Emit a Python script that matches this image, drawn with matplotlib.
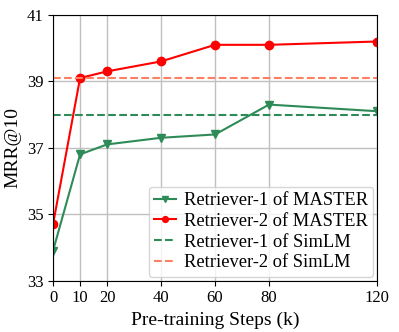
import matplotlib
matplotlib.use("Agg")
import matplotlib.pyplot as plt

plt.rcParams['font.family'] = ['Liberation Serif', 'DejaVu Serif']
plt.rcParams['mathtext.fontset'] = 'stix'

# Daten
steps = [0, 10, 20, 40, 60, 80, 120]
master_r1 = [33.9, 36.8, 37.1, 37.3, 37.4, 38.3, 38.1]
master_r2 = [34.7, 39.1, 39.3, 39.6, 40.1, 40.1, 40.2]
simlm_r1 = 38.0
simlm_r2 = 39.1
y_ticks = [33, 35, 37, 39, 41]

fig, ax = plt.subplots(figsize=(3.99, 3.32), dpi=100)
ax.plot(steps, master_r1, color='#2e8b57', marker='v', markersize=6,
        linewidth=1.5, label='Retriever-1 of MASTER')
ax.plot(steps, master_r2, color='red', marker='o', markersize=6,
        linewidth=1.5, label='Retriever-2 of MASTER')
ax.axhline(simlm_r1, color='#2e8b57', linestyle='--', linewidth=1.5,
           label='Retriever-1 of SimLM')
ax.axhline(simlm_r2, color='#ff7f60', linestyle='--', linewidth=1.5,
           label='Retriever-2 of SimLM')

ax.set_xlim(0, 120)
ax.set_ylim(33, 41)
ax.set_xticks(steps)
ax.set_yticks(y_ticks)
ax.grid(True, color='#c0c0c0', linewidth=1)
ax.set_axisbelow(True)
ax.tick_params(labelsize=12)
ax.set_xlabel('Pre-training Steps (k)', fontsize=14)
ax.set_ylabel('MRR@10', fontsize=14)
ax.legend(loc='lower right', fontsize=13.3, handlelength=1.2, markerscale=0.7,
          borderpad=0.3, labelspacing=0.2, handletextpad=0.4,
          borderaxespad=0.2)

fig.subplots_adjust(left=0.133, right=0.945, top=0.955, bottom=0.155)
fig.savefig('out.png', dpi=100)
